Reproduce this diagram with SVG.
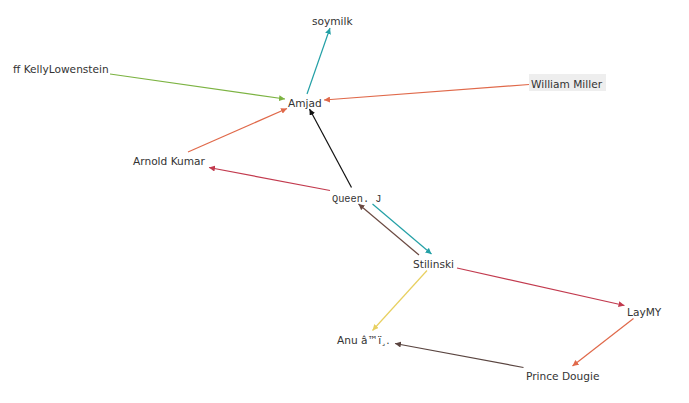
<svg xmlns="http://www.w3.org/2000/svg" width="689" height="403" viewBox="0 0 689 403">
<style>
  .lbl { font-family: "DejaVu Sans", Verdana, sans-serif; font-size: 10.6px; fill: #333; }
  .mono { font-family: "Liberation Mono", "DejaVu Sans Mono", monospace; font-size: 10.3px; fill: #333; }
  .e { fill: none; stroke-width: 1.2; }
</style>
<defs>
  <marker id="a-teal" viewBox="0 0 6 6" refX="6" refY="3" markerWidth="6" markerHeight="6" markerUnits="userSpaceOnUse" orient="auto"><path d="M0,0L6,3L0,6z" fill="#23a0a6"/></marker>
  <marker id="a-green" viewBox="0 0 6 6" refX="6" refY="3" markerWidth="6" markerHeight="6" markerUnits="userSpaceOnUse" orient="auto"><path d="M0,0L6,3L0,6z" fill="#7cb342"/></marker>
  <marker id="a-orange" viewBox="0 0 6 6" refX="6" refY="3" markerWidth="6" markerHeight="6" markerUnits="userSpaceOnUse" orient="auto"><path d="M0,0L6,3L0,6z" fill="#e0694a"/></marker>
  <marker id="a-crimson" viewBox="0 0 6 6" refX="6" refY="3" markerWidth="6" markerHeight="6" markerUnits="userSpaceOnUse" orient="auto"><path d="M0,0L6,3L0,6z" fill="#c23a4e"/></marker>
  <marker id="a-black" viewBox="0 0 6 6" refX="6" refY="3" markerWidth="6" markerHeight="6" markerUnits="userSpaceOnUse" orient="auto"><path d="M0,0L6,3L0,6z" fill="#111"/></marker>
  <marker id="a-brown" viewBox="0 0 6 6" refX="6" refY="3" markerWidth="6" markerHeight="6" markerUnits="userSpaceOnUse" orient="auto"><path d="M0,0L6,3L0,6z" fill="#6b4a42"/></marker>
  <marker id="a-yellow" viewBox="0 0 6 6" refX="6" refY="3" markerWidth="6" markerHeight="6" markerUnits="userSpaceOnUse" orient="auto"><path d="M0,0L6,3L0,6z" fill="#e8d060"/></marker>
  <marker id="a-dark" viewBox="0 0 6 6" refX="6" refY="3" markerWidth="6" markerHeight="6" markerUnits="userSpaceOnUse" orient="auto"><path d="M0,0L6,3L0,6z" fill="#5a4540"/></marker>
</defs>
<rect width="689" height="403" fill="#fff"/>
<g id="connectors">
  <line class="e" x1="307" y1="94" x2="330" y2="28" stroke="#23a0a6" marker-end="url(#a-teal)"/>
  <line class="e" x1="110" y1="74" x2="285" y2="99" stroke="#7cb342" marker-end="url(#a-green)"/>
  <line class="e" x1="529" y1="84.5" x2="324" y2="100" stroke="#e0694a" marker-end="url(#a-orange)"/>
  <line class="e" x1="188" y1="152" x2="287" y2="108.5" stroke="#e0694a" marker-end="url(#a-orange)"/>
  <line class="e" x1="351.5" y1="187.5" x2="309.5" y2="109" stroke="#111" marker-end="url(#a-black)"/>
  <line class="e" x1="330" y1="190.5" x2="209" y2="167.5" stroke="#c23a4e" marker-end="url(#a-crimson)"/>
  <line class="e" x1="372.5" y1="204" x2="431.5" y2="254" stroke="#23a0a6" marker-end="url(#a-teal)"/>
  <line class="e" x1="419" y1="255" x2="358.5" y2="204" stroke="#6b4a42" marker-end="url(#a-brown)"/>
  <line class="e" x1="457" y1="268" x2="624.5" y2="305.5" stroke="#c23a4e" marker-end="url(#a-crimson)"/>
  <line class="e" x1="427" y1="270.5" x2="372.5" y2="330.5" stroke="#e8d060" marker-end="url(#a-yellow)"/>
  <line class="e" x1="633.5" y1="318.5" x2="572.5" y2="366" stroke="#e0694a" marker-end="url(#a-orange)"/>
  <line class="e" x1="523.5" y1="367.5" x2="395" y2="343.5" stroke="#5a4540" marker-end="url(#a-dark)"/>
</g>
<g id="n-soymilk"><text class="lbl" x="312" y="25">soymilk</text></g>
<g id="n-kelly"><text class="lbl" x="13" y="72.5">ff KellyLowenstein</text></g>
<g id="n-amjad"><text class="lbl" x="288" y="107">Amjad</text></g>
<g id="n-william"><rect x="529" y="74" width="77" height="17" fill="#eeeeee"/><text class="lbl" x="531" y="88">William Miller</text></g>
<g id="n-arnold"><text class="lbl" x="133" y="165">Arnold Kumar</text></g>
<g id="n-queen"><text class="mono" x="332" y="202">Queen. J</text></g>
<g id="n-stilinski"><text class="lbl" x="413" y="268">Stilinski</text></g>
<g id="n-laymy"><text class="lbl" x="627" y="315.5">LayMY</text></g>
<g id="n-anu"><text class="lbl" x="337" y="344">Anu â™ï¸.</text></g>
<g id="n-prince"><text class="lbl" x="526" y="380">Prince Dougie</text></g>
</svg>
